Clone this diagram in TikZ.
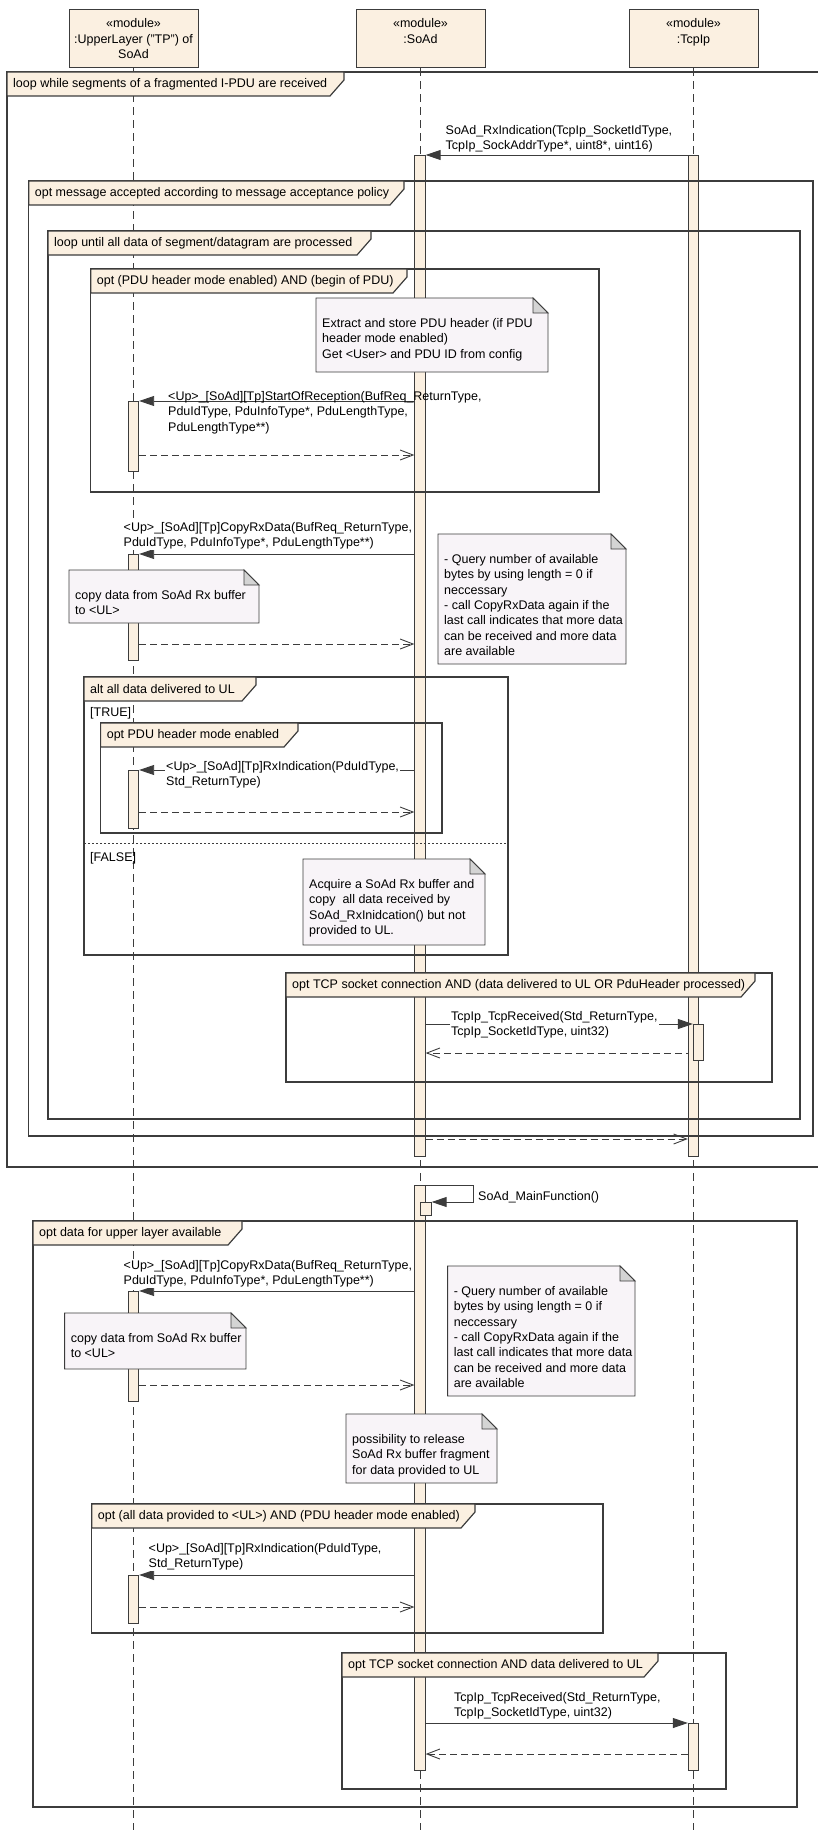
\documentclass[tikz,border=0pt]{standalone}
\usepackage{fontspec}
\setmainfont{Liberation Sans}
\usetikzlibrary{arrows.meta}
\usetikzlibrary{backgrounds}

\definecolor{linec}{RGB}{60,60,60}
\definecolor{modfill}{RGB}{251,240,225}
\definecolor{notefill}{RGB}{248,244,248}
\definecolor{foldfill}{RGB}{212,212,212}

\pgfdeclarelayer{front}
\pgfsetlayers{background,main,front}

% combined fragment: name, x1, y1, x2, y2, tab right, label
\newcommand{\combfrag}[7]{%
  \draw[fragline] (#2,#3) rectangle (#4,#5);
  \draw[fragtab] (#2,#3) -- (#6,#3) -- (#6,#3+8) -- (#6-14,#3+24) -- (#2,#3+24) -- cycle;
  \node[fraglabel] (#1) at (#2+6,#3+12) {#7};}

% note: name, x1, y1, x2, y2, text
\newcommand{\umlnote}[6]{%
  \draw[notebox] (#2,#3) -- (#4-15,#3) -- (#4,#3+15) -- (#4,#5) -- (#2,#5) -- cycle;
  \draw[notefold] (#4-15,#3) -- (#4-15,#3+15) -- (#4,#3+15) -- cycle;
  \node[notetext] (#1) at (#2+6,#3+20) {#6};}

\begin{document}
\begin{tikzpicture}[x=1pt,y=-1pt,
        every node/.style={font=\fontsize{12.5}{15.4}\selectfont},
        module/.style={draw=linec,fill=modfill,line width=0.9pt,minimum width=129pt,
            minimum height=58.5pt,inner sep=0,align=center,anchor=north},
        lifeline/.style={draw=linec,line width=0.9pt,dash pattern=on 8pt off 5pt},
        actbar/.style={draw=linec,fill=modfill,line width=0.8pt,minimum width=10.5pt,
            inner sep=0,anchor=north},
        call/.style={draw=linec,line width=0.9pt,-{Triangle[length=15pt,width=10pt]}},
        reply/.style={draw=linec,line width=0.9pt,dash pattern=on 7pt off 4pt,
            -{Straight Barb[length=13pt,width=10pt]}},
        msgtext/.style={align=left,anchor=north west,inner sep=1pt,fill=white},
        fragline/.style={draw=linec,line width=1.2pt},
        fragtab/.style={fragline,fill=modfill},
        fraglabel/.style={anchor=west,inner sep=0},
        notebox/.style={draw=linec,fill=notefill,line width=0.9pt},
        notefold/.style={draw=linec,fill=foldfill,line width=0.9pt},
        notetext/.style={align=left,anchor=north west,inner sep=0},
        guard/.style={anchor=west,inner sep=0},
        altsep/.style={draw=linec,line width=0.9pt,dash pattern=on 2pt off 2pt},
  ]

    \useasboundingbox (0,0) rectangle (817,1830);
    \coordinate (bottom) at (0,1830);

    \begin{pgfonlayer}{front}
    % lifeline heads
    \node[module] (ul) at (133.5,9) {«module»\\:UpperLayer ("TP") of\\SoAd};
    \node[module] (soad) at (420.5,9) {«module»\\:SoAd\\\mbox{}};
    \node[module] (tcpip) at (693.5,9) {«module»\\:TcpIp\\\mbox{}};

    % activations
    \node[actbar,minimum height=1001pt] (sbar1) at (420,155) {};
    \node[actbar,minimum height=1001pt] (tbar1) at (693.5,155) {};
    \node[actbar,minimum height=70pt] (ulbar1) at (133.5,401) {};
    \node[actbar,minimum height=106pt] (ulbar2) at (133.5,554) {};
    \node[actbar,minimum height=58pt] (ulbar3) at (133.5,770) {};
    \node[actbar,minimum height=36pt] (tbar2) at (698.5,1024) {};
    \node[actbar,minimum height=585pt] (sbar2) at (420,1185) {};
    \node[actbar,minimum height=13pt] (sbar3) at (426,1202) {};
    \node[actbar,minimum height=110pt] (ulbar4) at (133.5,1291) {};
    \node[actbar,minimum height=48pt] (ulbar5) at (133.5,1575) {};
    \node[actbar,minimum height=47pt] (tbar3) at (693.5,1723) {};

    % fragments
    \combfrag{loopseg}{7}{72}{819}{1167}{344}{loop while segments of a fragmented I-PDU are received}
    \combfrag{optacc}{28.7}{181}{813}{1136}{404}{opt message accepted according to message acceptance policy}
    \combfrag{loopdata}{48}{231}{800}{1119}{371}{loop until all data of segment/datagram are processed}
    \combfrag{opthdr}{90.7}{269}{599}{492}{407}{opt (PDU header mode enabled) AND (begin of PDU)}
    \combfrag{altul}{84}{677}{508}{955}{256}{alt all data delivered to UL}
    \combfrag{opthdrmode}{100.6}{723}{442}{833}{298}{opt PDU header mode enabled}
    \combfrag{opttcp}{286}{973}{772}{1082}{755}{opt TCP socket connection AND (data delivered to UL OR PduHeader processed)}
    \combfrag{optupper}{33}{1221}{797}{1807}{242}{opt data for upper layer available}
    \combfrag{optall}{91.7}{1504}{603}{1633}{475}{opt (all data provided to <UL>) AND (PDU header mode enabled)}
    \combfrag{opttcpul}{342}{1653}{726}{1789}{658}{opt TCP socket connection AND data delivered to UL}

    \node[guard] (gtrue) at (90,713) {[TRUE]};
    \node[guard] (gfalse) at (90,858) {[FALSE]};
    \draw[altsep] (84,843) -- (508,843);

    % notes
    \umlnote{noteextract}{316}{298}{548}{372}{Extract and store PDU header (if PDU\\header mode enabled)\\Get <User> and PDU ID from config}
    \umlnote{notecopya}{69}{570}{259}{623}{copy data from SoAd Rx buffer\\to <UL>}
    \umlnote{notequerya}{438}{534}{626}{664}{- Query number of available\\bytes by using length = 0 if\\neccessary\\- call CopyRxData again if the\\last call indicates that more data\\can be received and more data\\are available}
    \umlnote{noteacquire}{303}{859}{485}{945}{Acquire a SoAd Rx buffer and\\copy \ all data received by\\SoAd\_RxInidcation() but not\\provided to UL.}
    \umlnote{notecopyb}{64.6}{1313}{246}{1369}{copy data from SoAd Rx buffer\\to <UL>}
    \umlnote{notequeryb}{447.6}{1266}{635}{1396}{- Query number of available\\bytes by using length = 0 if\\neccessary\\- call CopyRxData again if the\\last call indicates that more data\\can be received and more data\\are available}
    \umlnote{noterelease}{346}{1414}{497}{1483}{possibility to release\\SoAd Rx buffer fragment\\for data provided to UL}
    \end{pgfonlayer}

    \begin{pgfonlayer}{background}
    \foreach \m in {ul,soad,tcpip}
        \draw[lifeline] (\m.south) -- (\m.south |- bottom);
    \end{pgfonlayer}

    % fragmented I-PDU loop
    \draw[call] (tbar1.north west) -- (sbar1.north east);
    \node[msgtext] (rxind) at (444.5,124) {SoAd\_RxIndication(TcpIp\_SocketIdType,\\TcpIp\_SockAddrType*, uint8*, uint16)};

    \draw[call] (sbar1.west |- ulbar1.north) -- (ulbar1.north east);
    \draw[reply] (ulbar1.east |- 0,455) -- (sbar1.west |- 0,455);

    \draw[call] (sbar1.west |- ulbar2.north) -- (ulbar2.north east);
    \node[msgtext] (copyrxa) at (122.5,521) {<Up>\_[SoAd][Tp]CopyRxData(BufReq\_ReturnType,\\PduIdType, PduInfoType*, PduLengthType**)};
    \draw[reply] (ulbar2.east |- 0,644) -- (sbar1.west |- 0,644);

    \draw[call] (sbar1.west |- ulbar3.north) -- (ulbar3.north east);
    \node[msgtext] (rxula) at (165,760) {<Up>\_[SoAd][Tp]RxIndication(PduIdType,\\Std\_ReturnType)};
    \draw[reply] (ulbar3.east |- 0,812) -- (sbar1.west |- 0,812);

    \draw[reply] (tbar2.west |- 0,1053) -- (sbar1.east |- 0,1053);
    \draw[reply] (sbar1.east |- 0,1139) -- (tbar1.west |- 0,1139);

    % main function
    \draw[call] (sbar2.north east) -- ++(48,0) -- ++(0,17) -- (sbar3.north east);
    \node[msgtext,anchor=west,fill=none] (mainfn) at (477,1197) {SoAd\_MainFunction()};

    \draw[call] (sbar2.west |- ulbar4.north) -- (ulbar4.north east);
    \node[msgtext] (copyrxb) at (122.5,1259) {<Up>\_[SoAd][Tp]CopyRxData(BufReq\_ReturnType,\\PduIdType, PduInfoType*, PduLengthType**)};
    \draw[reply] (ulbar4.east |- 0,1385) -- (sbar2.west |- 0,1385);

    \draw[call] (sbar2.west |- ulbar5.north) -- (ulbar5.north east);
    \node[msgtext] (rxulb) at (147.5,1542) {<Up>\_[SoAd][Tp]RxIndication(PduIdType,\\Std\_ReturnType)};
    \draw[reply] (ulbar5.east |- 0,1607) -- (sbar2.west |- 0,1607);

    \draw[call] (sbar2.east |- tbar3.north) -- (tbar3.north west);
    \node[msgtext] (tcprxb) at (453,1691) {TcpIp\_TcpReceived(Std\_ReturnType,\\TcpIp\_SocketIdType, uint32)};
    \draw[reply] (tbar3.west |- 0,1754) -- (sbar2.east |- 0,1754);

    \begin{pgfonlayer}{front}
    \node[msgtext,fill=none] (startrx) at (167,390) {<Up>\_[SoAd][Tp]StartOfReception(BufReq\_ReturnType,\\PduIdType, PduInfoType*, PduLengthType,\\PduLengthType**)};
    \draw[call] (sbar1.east |- tbar2.north) -- (tbar2.north west);
    \node[msgtext] (tcprxa) at (450,1010) {TcpIp\_TcpReceived(Std\_ReturnType,\\TcpIp\_SocketIdType, uint32)};
    \end{pgfonlayer}
\end{tikzpicture}
\end{document}
